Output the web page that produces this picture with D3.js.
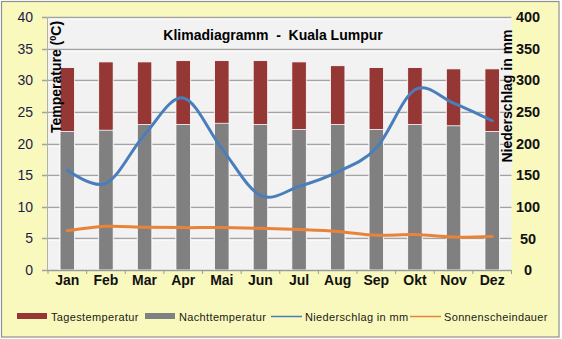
<!DOCTYPE html>
<html>
<head>
<meta charset="utf-8">
<script src="https://cdn.jsdelivr.net/npm/d3@7"></script>
<style>
  html, body { margin: 0; padding: 0; background: #ffffff; }
  svg { display: block; }
  text { font-family: "Liberation Sans", Arial, sans-serif; }
</style>
</head>
<body>
<svg id="chart" width="562" height="339"></svg>
<script>
// Klimadiagramm Kuala Lumpur: monthly temperatures, rainfall and sunshine
const months = ["Jan", "Feb", "Mar", "Apr", "Mai", "Jun", "Jul", "Aug", "Sep", "Okt", "Nov", "Dez"];
const tagestemperatur = [32.0, 32.9, 32.9, 33.1, 33.1, 33.1, 32.9, 32.3, 32.0, 32.0, 31.8, 31.8];
const nachttemperatur = [21.9, 22.1, 23.0, 23.0, 23.2, 23.0, 22.2, 23.0, 22.2, 23.0, 22.8, 21.9];
const niederschlag = [158, 137, 214, 272, 192, 118, 132, 155, 193, 285, 264, 236];
const sonnenschein = [6.2, 6.9, 6.75, 6.7, 6.7, 6.6, 6.4, 6.1, 5.5, 5.6, 5.2, 5.3];
const leftTicks = [0, 5, 10, 15, 20, 25, 30, 35, 40];
const rightTicks = [0, 50, 100, 150, 200, 250, 300, 350, 400];
const legendLabels = ["Tagestemperatur", "Nachttemperatur", "Niederschlag in mm", "Sonnenscheindauer"];

const colors = {
  day: "#953735",
  night: "#808080",
  rain: "#4a7ebb",
  sun: "#e8843a",
  panel: "#f9f9be",
  plot: "#f2f2f2",
  grid: "#a3a3a3"
};

const svg = d3.select("#chart");
const plot = { left: 48, right: 511.5, top: 17, bottom: 270 };

const x = d3.scaleBand().domain(months).range([plot.left, plot.right]);
const yL = d3.scaleLinear().domain([0, 40]).range([plot.bottom, plot.top]);
const yR = d3.scaleLinear().domain([0, 400]).range([plot.bottom, plot.top]);

// outer panel
svg.append("rect")
  .attr("x", 1.5).attr("y", 1.5).attr("width", 557.5).attr("height", 335.5)
  .attr("fill", colors.panel).attr("stroke", "#8f8f8f").attr("stroke-width", 1.2);

// plot background
svg.append("rect")
  .attr("x", plot.left).attr("y", plot.top)
  .attr("width", plot.right - plot.left).attr("height", plot.bottom - plot.top)
  .attr("fill", colors.plot);

// horizontal gridlines with a light edge underneath
const grid = svg.append("g");
leftTicks.forEach(t => {
  const y = Math.round(yL(t)) + 0.5;
  grid.append("line")
    .attr("x1", 42).attr("x2", plot.right).attr("y1", y).attr("y2", y)
    .attr("stroke", colors.grid).attr("stroke-width", 1.4);
  if (t > 0) {
    grid.append("line")
      .attr("x1", plot.left).attr("x2", plot.right).attr("y1", y + 1.5).attr("y2", y + 1.5)
      .attr("stroke", "#ffffff").attr("stroke-width", 1);
  }
});

// left axis line
svg.append("line")
  .attr("x1", 47.5).attr("x2", 47.5).attr("y1", plot.top).attr("y2", plot.bottom)
  .attr("stroke", "#b0b0b0").attr("stroke-width", 1);

// bars: day temperature behind, night temperature in front
const barW = x.bandwidth() * 0.375;
const bars = svg.append("g");
months.forEach((m, i) => {
  const cx = x(m) + x.bandwidth() / 2;
  bars.append("rect")
    .attr("x", cx - barW / 2).attr("width", barW)
    .attr("y", yL(tagestemperatur[i])).attr("height", yL(0) - yL(tagestemperatur[i]))
    .attr("fill", colors.day).attr("stroke", "#ffffff").attr("stroke-width", 0.8);
  bars.append("rect")
    .attr("x", cx - barW / 2).attr("width", barW)
    .attr("y", yL(nachttemperatur[i])).attr("height", yL(0) - yL(nachttemperatur[i]))
    .attr("fill", colors.night).attr("stroke", "#ffffff").attr("stroke-width", 0.8);
});

// x axis line and category separators
const xa = svg.append("g");
xa.append("line")
  .attr("x1", plot.left).attr("x2", plot.right).attr("y1", plot.bottom + 0.5).attr("y2", plot.bottom + 0.5)
  .attr("stroke", "#9a9a9a").attr("stroke-width", 1.2);
months.concat(["end"]).forEach((m, i) => {
  const xx = plot.left + i * x.bandwidth();
  xa.append("line")
    .attr("x1", xx).attr("x2", xx).attr("y1", plot.bottom).attr("y2", plot.bottom + 4)
    .attr("stroke", "#9a9a9a").attr("stroke-width", 1);
});
xa.selectAll("text.month").data(months).enter().append("text")
  .attr("class", "month")
  .attr("x", d => x(d) + x.bandwidth() / 2)
  .attr("y", 285)
  .attr("text-anchor", "middle")
  .attr("font-size", "14px").attr("font-weight", "bold").attr("fill", "#111")
  .text(d => d);

// left tick labels
svg.append("g").selectAll("text").data(leftTicks).enter().append("text")
  .attr("x", 33).attr("y", d => yL(d)).attr("dy", "0.36em")
  .attr("text-anchor", "end").attr("font-size", "14px").attr("fill", "#1c1c48")
  .text(d => d);

// right tick labels
svg.append("g").selectAll("text").data(rightTicks).enter().append("text")
  .attr("x", 528).attr("y", d => yR(d)).attr("dy", "0.36em")
  .attr("text-anchor", "middle").attr("font-size", "14.5px").attr("font-weight", "bold").attr("fill", "#111")
  .text(d => d);

// lines
const lineL = d3.line()
  .x((d, i) => x(months[i]) + x.bandwidth() / 2)
  .y(d => yL(d))
  .curve(d3.curveCardinal.tension(0));
const lineR = d3.line()
  .x((d, i) => x(months[i]) + x.bandwidth() / 2)
  .y(d => yR(d))
  .curve(d3.curveCardinal.tension(0));

svg.append("path").datum(sonnenschein)
  .attr("d", lineL).attr("fill", "none")
  .attr("stroke", colors.sun).attr("stroke-width", 3).attr("stroke-linecap", "round");
svg.append("path").datum(niederschlag)
  .attr("d", lineR).attr("fill", "none")
  .attr("stroke", colors.rain).attr("stroke-width", 3).attr("stroke-linecap", "round");

// title
svg.append("text")
  .attr("x", 273).attr("y", 40).attr("text-anchor", "middle")
  .attr("font-size", "14px").attr("font-weight", "bold").attr("fill", "#000")
  .attr("xml:space", "preserve")
  .text("Klimadiagramm  -  Kuala Lumpur");

// axis titles
const tL = svg.append("text")
  .attr("transform", "translate(61,77) rotate(-90)")
  .attr("text-anchor", "middle")
  .attr("font-size", "14px").attr("font-weight", "bold").attr("fill", "#000");
tL.append("tspan").text("Temperature (");
tL.append("tspan").attr("font-size", "9px").attr("dy", "-5").text("0");
tL.append("tspan").attr("dy", "5").text("C)");

svg.append("text")
  .attr("transform", "translate(512,96) rotate(-90)")
  .attr("text-anchor", "middle")
  .attr("font-size", "14px").attr("font-weight", "bold").attr("fill", "#000")
  .text("Niederschlag in mm");

// legend
const legend = svg.append("g");
const legendItems = [
  { label: legendLabels[0], type: "rect", color: colors.day, x: 17 },
  { label: legendLabels[1], type: "rect", color: colors.night, x: 145 },
  { label: legendLabels[2], type: "line", color: colors.rain, x: 271 },
  { label: legendLabels[3], type: "line", color: colors.sun, x: 410 }
];
legendItems.forEach(it => {
  if (it.type === "rect") {
    legend.append("rect").attr("x", it.x).attr("y", 313).attr("width", 30).attr("height", 6)
      .attr("fill", it.color);
  } else {
    legend.append("line").attr("x1", it.x).attr("x2", it.x + 31).attr("y1", 316.5).attr("y2", 316.5)
      .attr("stroke", it.color).attr("stroke-width", 1.5);
  }
  legend.append("text")
    .attr("x", it.x + 34).attr("y", 320.5)
    .attr("font-family", "'DejaVu Sans', sans-serif")
    .attr("font-size", "11px").attr("letter-spacing", "0.35px").attr("fill", "#1a1a1a")
    .text(it.label);
});
</script>
</body>
</html>
